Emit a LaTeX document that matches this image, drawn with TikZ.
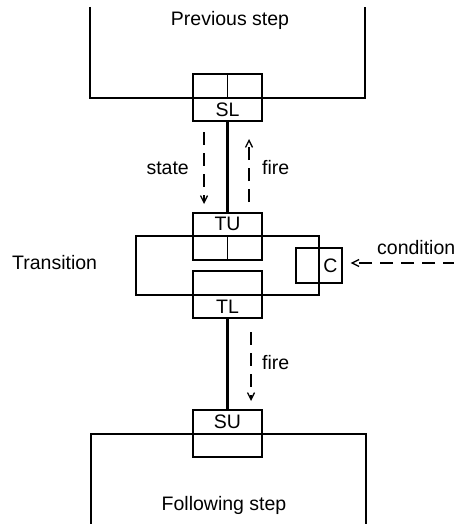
\documentclass[tikz,border=0pt]{standalone}
\usepackage{fontspec}
\setmainfont{Liberation Sans}
\usetikzlibrary{arrows.meta}
\begin{document}
\begin{tikzpicture}[x=1pt,y=-1pt,
  thickline/.style={line width=2.6pt},
  thinline/.style={line width=1.3pt},
  port/.style={draw,line width=1.3pt,minimum width=69pt,minimum height=47pt,inner sep=0pt},
  lbl/.style={font=\fontsize{19.5}{22}\selectfont,inner sep=0pt},
  sig/.style={line width=1.5pt,dash pattern=on 13pt off 8pt,-{Straight Barb[length=7pt,width=7pt,line width=1.3pt]}}
]
\useasboundingbox (0,0) rectangle (454,524);
% step boxes (open at the image edge)
\draw[thickline] (90,7) -- (90,98) -- (365,98) -- (365,7);
\draw[thickline] (91,528) -- (91,434) -- (366,434) -- (366,528);
\node[lbl] (prevlbl) at (230,20) {Previous step};
\node[lbl] (follbl) at (224,505) {Following step};
% transition box
\node[draw,thickline,minimum width=183pt,minimum height=59pt,inner sep=0pt] (T) at (227.5,265.5) {};
\node[lbl,anchor=west] (Tlbl) at (12,263) {Transition};
% ports
\node[port] (SL) at (227.5,97.5) {};
\node[port] (TU) at (227.5,236.5) {};
\node[port] (TL) at (227.5,294.5) {};
\node[port] (SU) at (227.5,433.5) {};
\draw[thinline] (SL.north) -- (SL.center);
\draw[thinline] (TU.center) -- (TU.south);
\node[lbl] at (227.5,110) {SL};
\node[lbl] at (227.5,224) {TU};
\node[lbl] at (227.5,307) {TL};
\node[lbl] at (227.5,422) {SU};
% condition box
\node[draw,thinline,minimum width=46pt,minimum height=35pt,inner sep=0pt] (C) at (319,265.5) {};
\node[lbl] at (330.5,265.5) {C};
% solid links
\draw[thickline] (SL.south) -- (TU.north);
\draw[thickline] (TL.south) -- (SU.north);
% signals
\coordinate (s1) at (204,132); \coordinate (s2) at (204,204);
\draw[sig] (s1) -- (s2);
\coordinate (f1) at (249,202); \coordinate (f2) at (249,139);
\draw[sig] (f1) -- (f2);
\coordinate (g1) at (251,332); \coordinate (g2) at (251,401);
\draw[sig] (g1) -- (g2);
\coordinate (c1) at (456,263);
\draw[sig] (c1) -- ([xshift=8pt]C.east |- c1);
\node[lbl,anchor=east] at (189,168) {state};
\node[lbl,anchor=west] at (262,168) {fire};
\node[lbl,anchor=west] at (262,363) {fire};
\node[lbl,anchor=west] at (377,248) {condition};
\end{tikzpicture}
\end{document}
